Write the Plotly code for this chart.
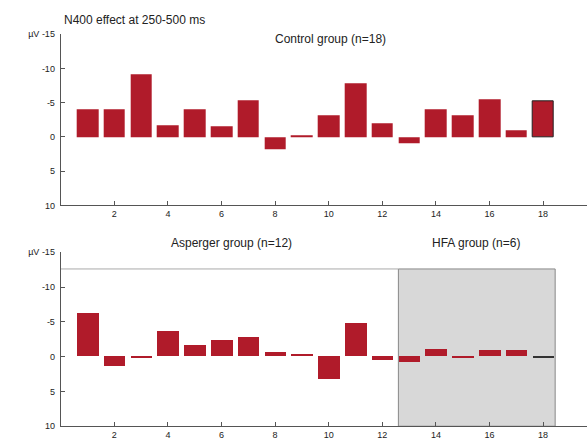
import plotly.graph_objects as go

subjects = list(range(1, 19))
control_vals = [-4.1, -4.0, -9.1, -1.7, -4.1, -1.5, -5.3, 1.85, -0.3, -3.2, -7.8, -2.0, 1.0, -4.0, -3.1, -5.5, -0.95, -5.2]
clinical_vals = [-6.2, 1.4, 0.15, -3.6, -1.7, -2.3, -2.8, -0.7, -0.4, 3.2, -4.8, 0.5, 0.75, -1.05, 0.1, -0.85, -0.85, 0.12]
x_ticks = [2, 4, 6, 8, 10, 12, 14, 16, 18]
y_ticks = [-15, -10, -5, 0, 5, 10]
y_ticktext = ["µV -15", "-10", "-5", "0", "5", "10"]

W, H = 587, 441
RED = "#B01B2A"

top_colors = [RED] * 18
top_line_w = [0] * 17 + [1]
bot_colors = [RED] * 17 + ["#333333"]

fig = go.Figure()
fig.add_trace(go.Bar(x=subjects, y=control_vals, width=0.8, marker=dict(color=top_colors, line=dict(color="#222222", width=top_line_w)), xaxis="x", yaxis="y", showlegend=False))
fig.add_trace(go.Bar(x=subjects, y=clinical_vals, width=0.8, marker=dict(color=bot_colors, line=dict(width=0)), xaxis="x2", yaxis="y2", showlegend=False))

x_left = 60.7 / W
x_max = (W - 60.7) / 26.8
font = dict(family="Liberation Sans, Arial, sans-serif", size=9, color="#222")

def xax(anchor):
    return dict(domain=[x_left, 1.0], range=[0, x_max], anchor=anchor, tickvals=x_ticks, ticks="inside", ticklen=4,
                tickcolor="#555", showline=True, linecolor="#555", linewidth=1, showgrid=False, zeroline=False,
                tickfont=font, fixedrange=True)

def yax(anchor, dom):
    return dict(domain=dom, range=[10, -15], anchor=anchor, tickvals=y_ticks, ticktext=y_ticktext, ticks="inside",
                ticklen=4, tickcolor="#555", showline=True, linecolor="#555", linewidth=1, showgrid=False,
                zeroline=False, tickfont=font, ticklabelstandoff=3)

top_dom = [1 - 205 / H, 1 - 30 / H]
bot_dom = [1 - 431 / H, 1 - 253 / H]

fig.update_layout(
    width=W, height=H, margin=dict(l=0, r=0, t=0, b=0),
    paper_bgcolor="white", plot_bgcolor="rgba(0,0,0,0)", bargap=0,
    xaxis=xax("y"), yaxis=yax("x", top_dom),
    xaxis2=xax("y2"), yaxis2=yax("x2", bot_dom),
    font=font,
)

# HFA gray box and frame line in the bottom panel
fig.add_shape(type="rect", xref="x2", yref="y2", x0=12.6, x1=18.45, y0=-12.6, y1=10,
              fillcolor="#D8D8D8", line=dict(color="#888888", width=1), layer="below")
fig.add_shape(type="line", xref="x2", yref="y2", x0=0, x1=12.6, y0=-12.6, y1=-12.6,
              line=dict(color="#AAAAAA", width=1), layer="below")

ann_font = dict(family="Liberation Sans, Arial, sans-serif", size=12, color="#222")
fig.add_annotation(text="N400 effect at 250-500 ms", xref="paper", yref="paper", x=62 / W, y=1 - 15 / H,
                   xanchor="left", yanchor="middle", showarrow=False, font=ann_font)
fig.add_annotation(text="Control group (n=18)", xref="paper", yref="paper", x=330 / W, y=1 - 35 / H,
                   xanchor="center", yanchor="middle", showarrow=False, font=ann_font)
fig.add_annotation(text="Asperger group (n=12)", xref="paper", yref="paper", x=232 / W, y=1 - 244 / H,
                   xanchor="center", yanchor="middle", showarrow=False, font=ann_font)
fig.add_annotation(text="HFA group (n=6)", xref="paper", yref="paper", x=476 / W, y=1 - 244 / H,
                   xanchor="center", yanchor="middle", showarrow=False, font=ann_font)

fig.write_html("out.html", config={"displayModeBar": False},
               post_script="document.body.style.margin='0';document.body.style.overflow='hidden';")
